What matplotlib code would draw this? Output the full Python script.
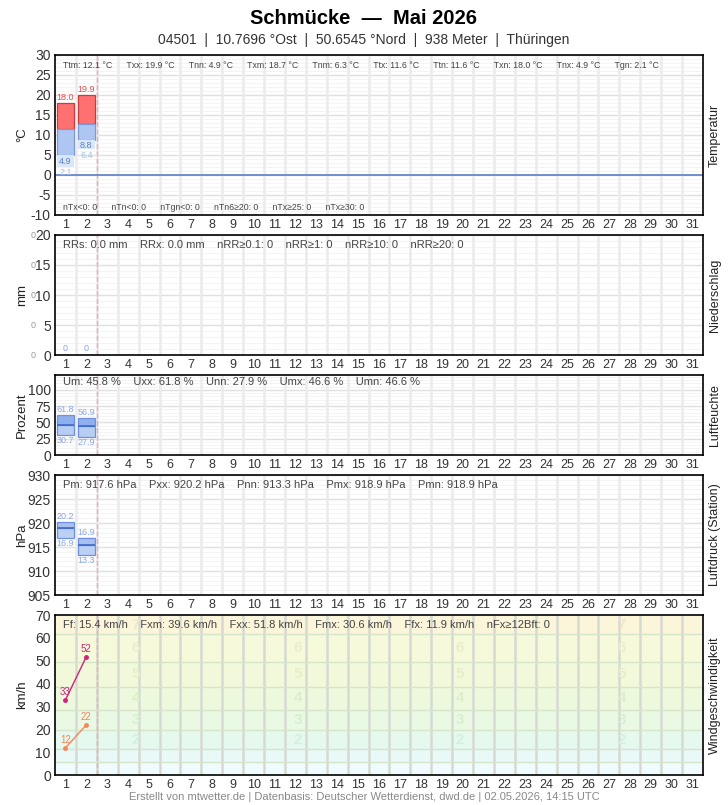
import numpy as np
import matplotlib
matplotlib.use("Agg")
import matplotlib.pyplot as plt

plt.rcParams['font.family'] = ['Liberation Sans', 'DejaVu Sans']
plt.rcParams['axes.unicode_minus'] = False

# Daily values (only first two days of the month available)
days = np.arange(1, 32)
obs_days = np.array([1, 2])
t_max = [18.0, 19.9]
t_mean = [11.4, 12.8]
t_min = [4.9, 8.8]
t_gmin = [2.1, 6.4]
rr = [0.0, 0.0]
u_max = [61.8, 56.9]
u_mean = [46.6, 45.0]
u_min = [30.7, 27.9]
p_max = [920.2, 916.9]
p_mean = [918.9, 915.4]
p_min = [916.9, 913.3]
fx = [32.8, 51.8]
fm = [11.9, 21.9]

# monthly statistics
temp_stats = ["Ttm: 12.1 °C", "Txx: 19.9 °C", "Tnn: 4.9 °C", "Txm: 18.7 °C", "Tnm: 6.3 °C",
              "Ttx: 11.6 °C", "Ttn: 11.6 °C", "Txn: 18.0 °C", "Tnx: 4.9 °C", "Tgn: 2.1 °C"]
temp_counts = ["nTx<0: 0", "nTn<0: 0", "nTgn<0: 0", "nTn6≥20: 0", "nTx≥25: 0", "nTx≥30: 0"]
rr_stats = ["RRs: 0.0 mm", "RRx: 0.0 mm", "nRR≥0.1: 0", "nRR≥1: 0", "nRR≥10: 0", "nRR≥20: 0"]
u_stats = ["Um: 45.8 %", "Uxx: 61.8 %", "Unn: 27.9 %", "Umx: 46.6 %", "Umn: 46.6 %"]
p_stats = ["Pm: 917.6 hPa", "Pxx: 920.2 hPa", "Pnn: 913.3 hPa", "Pmx: 918.9 hPa", "Pmn: 918.9 hPa"]
f_stats = ["Ff: 15.4 km/h", "Fxm: 39.6 km/h", "Fxx: 51.8 km/h", "Fmx: 30.6 km/h",
           "Ffx: 11.9 km/h", "nFx≥12Bft: 0"]

# Beaufort bands (km/h)
bft_edges = [0, 5.5, 11.5, 19.5, 28.5, 38.5, 49.5, 61.5, 70]
bft_colors = ['#f0fbfd', '#e9f9f8', '#e6f9ef', '#e9f9e3', '#edf9dc', '#f1f9da', '#f6f9da', '#fbf5da']
bft_text_colors = ['#e4f2f2', '#d8f0ea', '#d2f0e0', '#d4f0cf', '#dcefc8', '#e4efca', '#eaeecd', '#efe6cb']

fig = plt.figure(figsize=(7.28, 8.05), dpi=100)
W, H = 728, 805


def make_ax(top, bottom):
    return fig.add_axes([55 / W, 1 - bottom / H, 648 / W, (bottom - top) / H])


def style(ax, ylim, major, minor, grid=True):
    ax.set_xlim(0.5, 31.5)
    ax.set_ylim(*ylim)
    ax.set_xticks(days)
    ax.set_yticks(np.arange(ylim[0], ylim[1] + 0.01, major))
    ax.tick_params(length=0, labelsize=10, colors='#333333', pad=3)
    ax.tick_params(axis='x', labelsize=9, pad=3)
    if grid:
        for y in np.arange(ylim[0], ylim[1] + 0.01, minor):
            ax.axhline(y, color='#f3f3f3', lw=0.6, zorder=0)
        for y in np.arange(ylim[0], ylim[1] + 0.01, major):
            ax.axhline(y, color='#e0e0e0', lw=1.0, zorder=0)
    for x in np.arange(1.5, 31, 1):
        ax.axvline(x, color='#ebebeb', lw=1.8, zorder=0.5)
    ax.axvline(2.5, color='#eab0b0', lw=1, ls='--', zorder=1)
    for s in ax.spines.values():
        s.set_color('black')
        s.set_linewidth(1.2)


def stats(ax, items, y_px, size, sep):
    ax.text(63 / W, 1 - y_px / H, sep.join(items), transform=fig.transFigure,
            fontsize=size, color='#444444', va='center', ha='left', zorder=5)


def side_labels(top, bottom, left, right):
    yc = 1 - (top + bottom) / 2 / H
    fig.text(22 / W, yc, left, rotation=90, va='center', ha='center', fontsize=9.5, color='#222222')
    fig.text(715 / W, yc, right, rotation=90, va='center', ha='center', fontsize=9, color='#222222')


# Temperature
ax1 = make_ax(55, 215)
style(ax1, (-10, 30), 5, 1)
ax1.axhline(0, color='#5b7fc8', lw=1.2, zorder=2)
w = 0.78
ax1.bar(obs_days, np.subtract(t_max, t_mean), bottom=t_mean, width=w, color='#ff7171',
        edgecolor='#c83c3c', lw=0.9, zorder=3)
ax1.bar(obs_days, np.subtract(t_mean, t_min), bottom=t_min, width=w, color='#aec6f2',
        edgecolor='#7d9ad8', lw=0.9, zorder=3)
ax1.bar(obs_days, np.subtract(t_min, t_gmin), bottom=t_gmin, width=w, color='#dae7f8',
        edgecolor='none', zorder=3)
for d, tx, tn, tg in zip(obs_days, t_max, t_min, t_gmin):
    ax1.text(d, tx + 0.3, f"{tx:.1f}", ha='center', va='bottom', fontsize=6.5, color='#e05050', zorder=4)
    ax1.text(d, tn - 0.3, f"{tn:.1f}", ha='center', va='top', fontsize=6.5, color='#5a82c8', zorder=4)
    ax1.text(d, tg - 0.3, f"{tg:.1f}", ha='center', va='top', fontsize=6.5, color='#9dbde6', zorder=4)
stats(ax1, temp_stats, 65, 6.3, "      ")
stats(ax1, temp_counts, 208, 6.3, "      ")
side_labels(55, 215, "°C", "Temperatur")

# Precipitation
ax2 = make_ax(235, 355)
style(ax2, (0, 20), 5, 1)
for d, r in zip(obs_days, rr):
    ax2.text(d, r + 0.3, f"{r:.0f}", ha='center', va='bottom', fontsize=6.5, color='#8aa6e8', zorder=4)
for y in range(0, 21, 5):
    ax2.text(-0.034, y, "0", transform=ax2.get_yaxis_transform(), ha='center', va='center',
             fontsize=6.5, color='#999999')
stats(ax2, rr_stats, 245, 8, "    ")
side_labels(235, 355, "mm", "Niederschlag")

# Humidity
ax3 = make_ax(375, 455)
style(ax3, (0, 123), 25, 5)
ax3.set_yticks([0, 25, 50, 75, 100])
ax3.bar(obs_days, np.subtract(u_max, u_mean), bottom=u_mean, width=w, color='#8fb0ee',
        edgecolor='#6f90dc', lw=0.9, zorder=3)
ax3.bar(obs_days, np.subtract(u_mean, u_min), bottom=u_min, width=w, color='#b8cdf4',
        edgecolor='#6f90dc', lw=0.9, zorder=3)
ax3.hlines(u_mean, obs_days - w / 2, obs_days + w / 2, color='#3a66c8', lw=1.1, zorder=4)
for d, a, b in zip(obs_days, u_max, u_min):
    ax3.text(d, a + 1, f"{a:.1f}", ha='center', va='bottom', fontsize=6.5, color='#8aa6e8', zorder=4)
    ax3.text(d, b - 1, f"{b:.1f}", ha='center', va='top', fontsize=6.5, color='#8aa6e8', zorder=4)
stats(ax3, u_stats, 382, 8, "    ")
side_labels(375, 455, "Prozent", "Luftfeuchte")

# Pressure
ax4 = make_ax(475, 595)
style(ax4, (905, 930), 5, 1)
ax4.bar(obs_days, np.subtract(p_max, p_mean), bottom=p_mean, width=w, color='#a8c0f0',
        edgecolor='#6f90dc', lw=0.9, zorder=3)
ax4.bar(obs_days, np.subtract(p_mean, p_min), bottom=p_min, width=w, color='#bcd0f5',
        edgecolor='#6f90dc', lw=0.9, zorder=3)
ax4.hlines(p_mean, obs_days - w / 2, obs_days + w / 2, color='#3a66c8', lw=1.1, zorder=4)
for d, a, b in zip(obs_days, p_max, p_min):
    ax4.text(d, a + 0.2, f"{a:.1f}"[-4:], ha='center', va='bottom', fontsize=6.5, color='#8aa6e8', zorder=4)
    ax4.text(d, b - 0.2, f"{b:.1f}"[-4:], ha='center', va='top', fontsize=6.5, color='#8aa6e8', zorder=4)
stats(ax4, p_stats, 485, 8, "    ")
side_labels(475, 595, "hPa", "Luftdruck (Station)")

# Wind
ax5 = make_ax(615, 775)
style(ax5, (0, 70), 10, 10, grid=False)
for i in range(len(bft_colors)):
    ax5.axhspan(bft_edges[i], bft_edges[i + 1], color=bft_colors[i], zorder=0, lw=0)
    if i > 0:
        ax5.axhline(bft_edges[i], color='#d6e4cc', lw=1, zorder=0.6)
        mid = (bft_edges[i] + bft_edges[i + 1]) / 2
        if i >= 2:
            for xf in [0.125, 0.375, 0.625, 0.875]:
                ax5.text(xf, mid, str(i), transform=ax5.get_yaxis_transform(), ha='center',
                         va='center', fontsize=11, fontweight='bold', color=bft_text_colors[i], zorder=0.7)
for ln in ax5.lines:
    if ln.get_linestyle() == '-' and ln.get_color() == '#ebebeb':
        ln.set_color('#d6dad2')
ax5.plot(obs_days, fx, color='#d0237a', lw=1, marker='o', ms=2.5, zorder=4)
ax5.plot(obs_days, fm, color='#f5875a', lw=1, marker='o', ms=2.5, zorder=4)
for d, a, b in zip(obs_days, fx, fm):
    ax5.annotate(f"{a:.0f}", (d, a), xytext=(0, 2), textcoords='offset points', ha='center',
                 va='bottom', fontsize=7, color='#d0237a', zorder=5)
    ax5.annotate(f"{b:.0f}", (d, b), xytext=(0, 2), textcoords='offset points', ha='center',
                 va='bottom', fontsize=7, color='#f5875a', zorder=5)
stats(ax5, f_stats, 625, 8, "    ")
side_labels(615, 775, "km/h", "Windgeschwindigkeit")

# Titles and footer
fig.text(0.5, 1 - 18 / H, "Schmücke  —  Mai 2026", ha='center', va='center', fontsize=14.5, fontweight='bold')
fig.text(0.5, 1 - 40 / H, "04501  |  10.7696 °Ost  |  50.6545 °Nord  |  938 Meter  |  Thüringen",
         ha='center', va='center', fontsize=10, color='#333333')
fig.text(0.5, 1 - 797 / H,
         "Erstellt von mtwetter.de | Datenbasis: Deutscher Wetterdienst, dwd.de | 02.05.2026, 14:15 UTC",
         ha='center', va='center', fontsize=8, color='#888888')

fig.savefig("out.png", dpi=100)
